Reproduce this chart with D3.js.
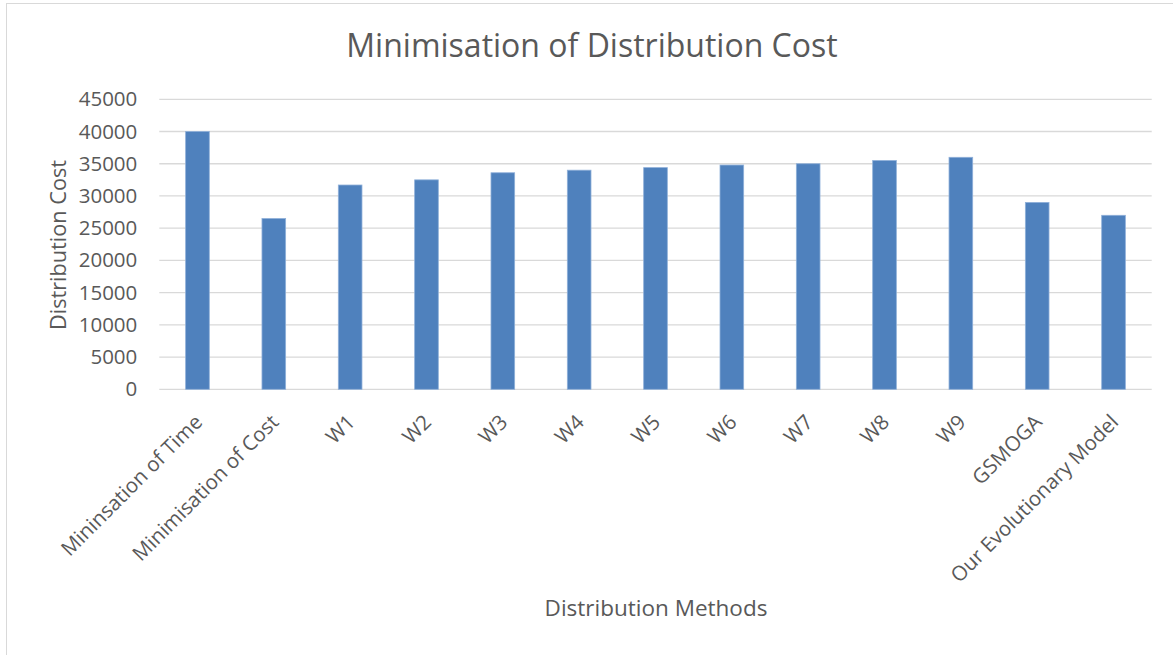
<!DOCTYPE html>
<html>
<head>
<meta charset="utf-8">
<script src="https://cdn.jsdelivr.net/npm/d3@7"></script>
<style>
  body { margin: 0; background: #fff; }
  svg { display: block; font-family: "Open Sans", sans-serif; }
</style>
</head>
<body>
<svg id="chart" width="1173" height="655"></svg>
<script>
const categories = ['Mininsation of Time', 'Minimisation of Cost', 'W1', 'W2', 'W3', 'W4', 'W5', 'W6', 'W7', 'W8', 'W9', 'GSMOGA', 'Our Evolutionary Model'];
const costValues = [40000, 26500, 31700, 32500, 33600, 34000, 34400, 34800, 35000, 35500, 36000, 29000, 27000];
const yTicks = [0, 5000, 10000, 15000, 20000, 25000, 30000, 35000, 40000, 45000];

const W = 1173, H = 655;
const plot = { left: 159.3, right: 1151.7, top: 99.3, bottom: 389.3 };
const textColor = '#595959';

const svg = d3.select('#chart');

// chart area border (cut off at right and bottom)
svg.append('rect')
    .attr('x', 6.5).attr('y', 3.5)
    .attr('width', W + 20).attr('height', H + 20)
    .attr('fill', '#fff')
    .attr('stroke', '#d9d9d9');

const x = d3.scaleBand()
    .domain(categories)
    .range([plot.left, plot.right])
    .paddingInner(0.69)
    .paddingOuter(0.345);

const y = d3.scaleLinear()
    .domain([0, 45000])
    .range([plot.bottom, plot.top]);

// gridlines
svg.append('g')
    .selectAll('line')
    .data(yTicks)
    .join('line')
    .attr('x1', plot.left).attr('x2', plot.right)
    .attr('y1', d => y(d)).attr('y2', d => y(d))
    .attr('stroke', '#d9d9d9')
    .attr('stroke-width', 1.3);

// y axis labels
const yAxis = svg.append('g')
    .attr('transform', `translate(${plot.left - 22},0)`)
    .call(d3.axisLeft(y).tickValues(yTicks).tickFormat(d3.format('d')).tickSize(0).tickPadding(0));
yAxis.select('.domain').remove();
yAxis.selectAll('text')
    .attr('fill', textColor)
    .style('font-size', '20.5px')
    .style('font-family', '"Open Sans", sans-serif');

// bars
svg.append('g')
    .selectAll('rect')
    .data(categories)
    .join('rect')
    .attr('x', d => x(d))
    .attr('width', x.bandwidth())
    .attr('y', (d, i) => y(costValues[i]))
    .attr('height', (d, i) => y(0) - y(costValues[i]))
    .attr('fill', '#4f81bd')
    .attr('stroke', '#8fb0d9')
    .attr('stroke-width', 0.8);

// category labels
svg.append('g')
    .selectAll('text')
    .data(categories)
    .join('text')
    .attr('transform', d => `translate(${x(d) + x.bandwidth() / 2 + 1},${plot.bottom + 29}) rotate(-45)`)
    .attr('text-anchor', 'end')
    .attr('dy', '0.35em')
    .attr('fill', textColor)
    .style('font-size', '20.5px')
    .text(d => d);

// title
svg.append('text')
    .attr('x', 592).attr('y', 57)
    .attr('text-anchor', 'middle')
    .attr('fill', textColor)
    .style('font-size', '32px')
    .text('Minimisation of Distribution Cost');

// axis titles
svg.append('text')
    .attr('transform', `translate(66,245) rotate(-90)`)
    .attr('text-anchor', 'middle')
    .attr('fill', textColor)
    .style('font-size', '21.7px')
    .text('Distribution Cost');

svg.append('text')
    .attr('x', 656).attr('y', 616)
    .attr('text-anchor', 'middle')
    .attr('fill', textColor)
    .style('font-size', '22.5px')
    .text('Distribution Methods');
</script>
</body>
</html>
